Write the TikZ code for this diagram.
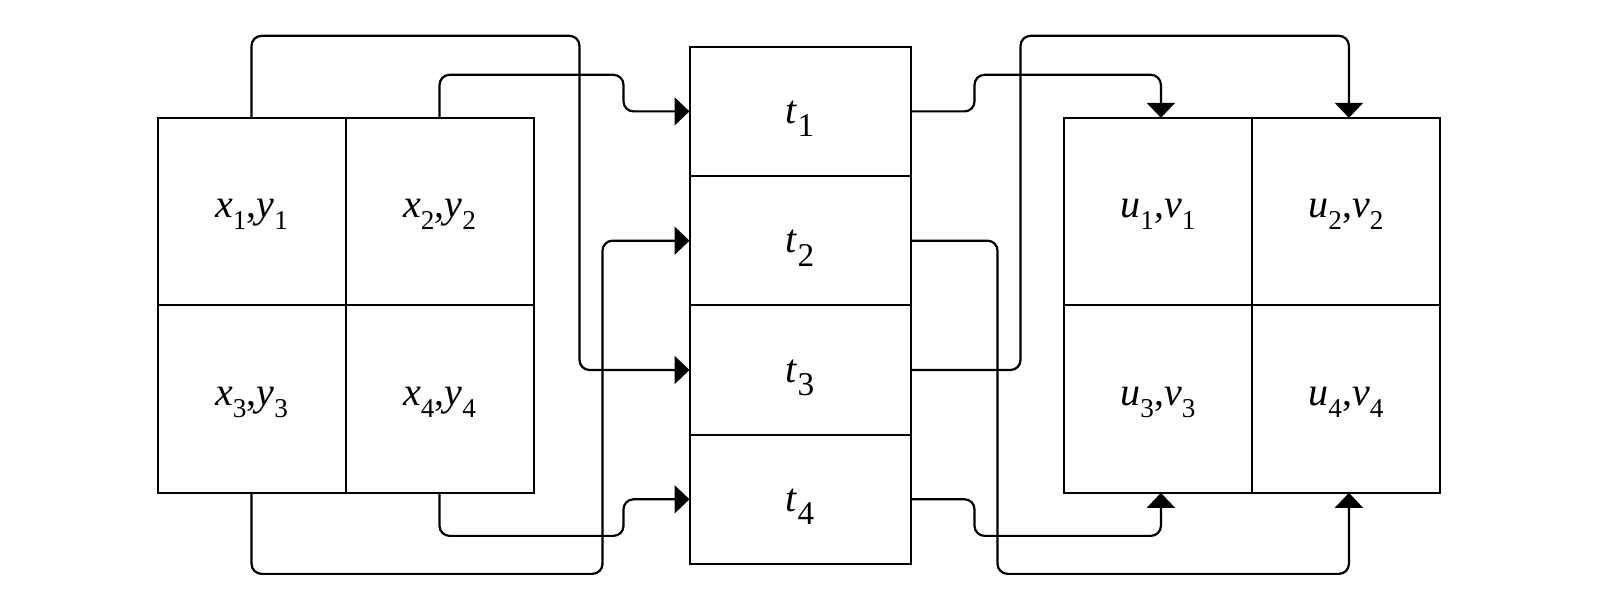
\documentclass[tikz,border=0pt]{standalone}
\usepackage{fontspec}
\setmainfont{Liberation Serif}
\usepackage{tikz}
\usetikzlibrary{arrows.meta, positioning, calc}

\newcommand{\lowidx}[3]{\raisebox{#1}{\fontsize{#2}{#2}\selectfont #3}}
\newcommand{\pairlbl}[3]{\raisebox{-1.5pt}[9.2pt][5.8pt]{\textit{#1}\lowidx{-5.8pt}{13.6}{#3},\textit{#2}\lowidx{-5.8pt}{13.6}{#3}}}
\newcommand{\tlbl}[1]{\raisebox{-3.6pt}[11.6pt][6.7pt]{\textit{t}\lowidx{-6.7pt}{16.6}{#1}}}

\begin{document}
\begin{tikzpicture}[>={Triangle[length=7.5pt,width=14pt]},
    cell/.style={draw, line width=1pt, minimum width=94pt, minimum height=93.75pt,
        inner sep=0pt, outer sep=0pt, font=\fontsize{20}{24}\selectfont},
    slot/.style={draw, line width=1pt, minimum width=110.5pt, minimum height=64.65pt,
        inner sep=0pt, outer sep=0pt, font=\fontsize{20}{24}\selectfont},
    link/.style={->, line width=1.1pt, rounded corners=5pt}]
        \useasboundingbox (0,0) rectangle (799pt,-304pt);

        % middle column
        \node[slot] (t1) at (400pt,-55.7pt) {\tlbl{1}};
        \node[slot] (t2) [below=0pt of t1] {\tlbl{2}};
        \node[slot] (t3) [below=0pt of t2] {\tlbl{3}};
        \node[slot] (t4) [below=0pt of t3] {\tlbl{4}};

        % left grid
        \node[cell] (x2) [above left=0pt and 78pt of t2.south west] {\pairlbl{x}{y}{2}};
        \node[cell] (x1) [left=0pt of x2] {\pairlbl{x}{y}{1}};
        \node[cell] (x4) [below=0pt of x2] {\pairlbl{x}{y}{4}};
        \node[cell] (x3) [left=0pt of x4] {\pairlbl{x}{y}{3}};

        % right grid
        \node[cell] (u1) [above right=0pt and 76.7pt of t2.south east] {\pairlbl{u}{v}{1}};
        \node[cell] (u2) [right=0pt of u1] {\pairlbl{u}{v}{2}};
        \node[cell] (u3) [below=0pt of u1] {\pairlbl{u}{v}{3}};
        \node[cell] (u4) [right=0pt of u3] {\pairlbl{u}{v}{4}};

        \draw[link] (x1.north) -- ++(0,41pt) -| ([xshift=-55pt]t3.west) -- (t3.west);
        \draw[link] (x2.north) -- ++(0,21.5pt) -| ([xshift=-33pt]t1.west) -- (t1.west);
        \draw[link] (x3.south) -- ++(0,-40.5pt) -| ([xshift=-43.5pt]t2.west) -- (t2.west);
        \draw[link] (x4.south) -- ++(0,-21.5pt) -| ([xshift=-33pt]t4.west) -- (t4.west);

        \draw[link] (t1.east) -- ([xshift=32pt]t1.east) |- ([xshift=1.5pt,yshift=21.5pt]u1.north) -- ([xshift=1.5pt]u1.north);
        \draw[link] (t3.east) -- ([xshift=55pt]t3.east) |- ([xshift=1.5pt,yshift=41pt]u2.north) -- ([xshift=1.5pt]u2.north);
        \draw[link] (t2.east) -- ([xshift=43.5pt]t2.east) |- ([xshift=1.5pt,yshift=-40.5pt]u4.south) -- ([xshift=1.5pt]u4.south);
        \draw[link] (t4.east) -- ([xshift=32pt]t4.east) |- ([xshift=1.5pt,yshift=-21.5pt]u3.south) -- ([xshift=1.5pt]u3.south);
    \end{tikzpicture}
\end{document}
